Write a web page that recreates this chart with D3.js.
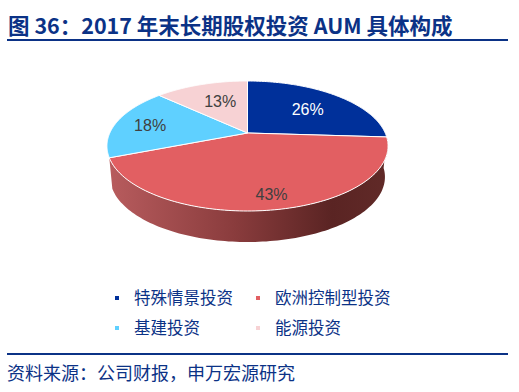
<!DOCTYPE html>
<html>
<head>
<meta charset="utf-8">
<script src="https://cdn.jsdelivr.net/npm/d3@7"></script>
<style>
html, body { margin:0; padding:0; background:#fff; }
svg { display:block; }
text { font-family:"Noto Sans CJK SC", "Liberation Sans", sans-serif; }
</style>
</head>
<body>
<script>
// Chart data
const categories = ["特殊情景投资", "欧洲控制型投资", "基建投资", "能源投资"];
const shares = [26, 43, 18, 13];
const colors = ["#00309a", "#e25f62", "#5fd0ff", "#f7d2d4"];
const labelColors = ["#ffffff", "#404040", "#404040", "#404040"];
// how far out along the slice each percent label sits
const labelRadius = [0.63, 0.82, 0.74, 0.64];
const labelNudge = [2, 3, 0, 4];

const titleText = "图 36：2017 年末长期股权投资 AUM 具体构成";
const sourceText = "资料来源：公司财报，申万宏源研究";
const navy = "#0b3286";

const width = 519;
const height = 392;

const svg = d3.select("body")
.append("svg")
.attr("width", width)
.attr("height", height);

// Wall gradient
const defs = svg.append("defs");
const wallGrad = defs.append("linearGradient")
.attr("id", "wall")
.attr("gradientUnits", "userSpaceOnUse")
.attr("x1", 108).attr("x2", 388).attr("y1", 0).attr("y2", 0);
wallGrad.append("stop").attr("offset", "0").attr("stop-color", "#b85c5e");
wallGrad.append("stop").attr("offset", "0.45").attr("stop-color", "#8a3c3d");
wallGrad.append("stop").attr("offset", "0.8").attr("stop-color", "#5a2423");
wallGrad.append("stop").attr("offset", "1").attr("stop-color", "#612a28");

// Title
svg.append("text")
.attr("x", 8).attr("y", 34)
.attr("font-size", 21.5)
.attr("font-weight", 700)
.attr("fill", navy)
.text(titleText);

svg.append("line")
.attr("x1", 7).attr("x2", 508).attr("y1", 40).attr("y2", 40)
.attr("stroke", navy).attr("stroke-width", 2);

// Perspective pie: disc point to screen point, apex at (247.5, 133)
const tilt = 0.2;
const xScale = d3.scaleLinear().domain([-1, 1]).range([247.5 - 137.7, 247.5 + 137.7]);
const yScale = d3.scaleLinear().domain([-1, 1]).range([133 - 62.4, 133 + 62.4]);

function project(angle, r, depth) {
  const X = r * Math.sin(angle);
  const Y = -r * Math.cos(angle);
  const w = 1 - tilt * Y;
  const k = depth ? 0.978 : 1;
  const x = xScale(X / w);
  const y = yScale(Y / w);
  return [247.5 + (x - 247.5) * k, y + depth];
}

const pie = d3.pie().sort(null).value(function(d){ return d; });
const arcs = pie(shares);
const line = d3.line();

function rim(a0, a1, depth) {
  return d3.range(0, 121).map(function(i){
    return project(a0 + (a1 - a0) * i / 120, 1, depth);
  });
}

// Side wall below the red slice
const red = arcs[1];
const wallPts = rim(red.startAngle, red.endAngle, 0).concat(rim(red.endAngle, red.startAngle, 31));
svg.append("path")
.attr("d", line(wallPts) + "Z")
.attr("fill", "url(#wall)");

// Top slices
svg.selectAll("path.slice")
.data(arcs)
.enter()
.append("path")
.attr("class", "slice")
.attr("d", function(d){
  return line([project(0, 0, 0)].concat(rim(d.startAngle, d.endAngle, 0))) + "Z";
})
.attr("fill", function(d,i){ return colors[i]; })
.attr("stroke", "#ffffff")
.attr("stroke-width", 1)
.attr("stroke-linejoin", "round");

// Percent labels
svg.selectAll("text.pct")
.data(arcs)
.enter()
.append("text")
.attr("class", "pct")
.attr("transform", function(d,i){
  const p = project((d.startAngle + d.endAngle) / 2, labelRadius[i], 0);
  return "translate(" + (p[0] + labelNudge[i]) + "," + (p[1] + 1) + ")";
})
.attr("text-anchor", "middle")
.attr("dy", "0.35em")
.attr("font-size", 16)
.style("font-family", "'Liberation Sans', sans-serif")
.attr("fill", function(d,i){ return labelColors[i]; })
.text(function(d){ return d.value + "%"; });

// Legend, 2 x 2
const legendX = d3.scalePoint().domain([0, 1]).range([117, 258]);
const legendY = d3.scalePoint().domain([0, 1]).range([298, 328]);

const legend = svg.selectAll("g.legend")
.data(categories)
.enter()
.append("g")
.attr("class", "legend")
.attr("transform", function(d,i){
  return "translate(" + legendX(i % 2) + "," + legendY(Math.floor(i / 2)) + ")";
});

legend.append("rect")
.attr("x", -2).attr("y", -2)
.attr("width", 4).attr("height", 4)
.attr("fill", function(d,i){ return colors[i]; });

legend.append("text")
.attr("x", 17)
.attr("dy", "0.36em")
.attr("font-size", 16.5)
.attr("fill", navy)
.text(function(d){ return d; });

// Source
svg.append("line")
.attr("x1", 7).attr("x2", 508).attr("y1", 354).attr("y2", 354)
.attr("stroke", navy).attr("stroke-width", 2);

svg.append("text")
.attr("x", 7).attr("y", 380)
.attr("font-size", 18)
.attr("fill", navy)
.text(sourceText);
</script>
</body>
</html>
